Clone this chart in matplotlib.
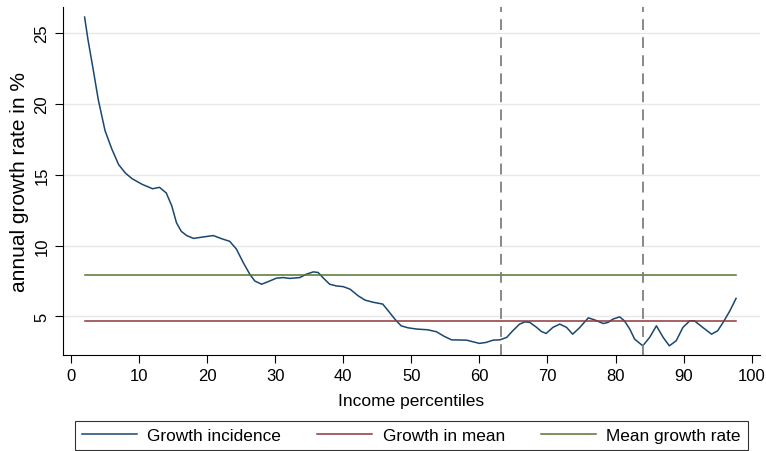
import matplotlib
matplotlib.use('Agg')
import matplotlib.pyplot as plt

# Growth incidence curve
pctile = [2, 2.5, 3.3, 4, 5, 6, 7, 8, 9, 10.5, 12, 13, 14, 14.8, 15.5, 16.2, 17, 18,
          19.4, 20.9, 22.3, 23.3, 24.3, 25.3, 26.3, 27, 28, 29, 30.2, 31.2, 32.1, 33.6,
          34.6, 35.6, 36.3, 37, 38, 39, 40, 41, 42.2, 43.2, 44.4, 45.8, 46.6, 47.6,
          48.5, 49.5, 50.8, 52.4, 53.7, 54.7, 55.9, 58.1, 60, 61, 62, 63, 64, 64.9,
          65.9, 66.7, 67.4, 68.4, 69.1, 69.8, 70.8, 71.8, 72.8, 73.7, 74.7, 76, 76.9,
          78.2, 78.9, 79.6, 80.6, 81.3, 82.1, 82.8, 84, 85, 86, 87, 87.9, 88.9, 89.9,
          90.9, 91.6, 92.8, 94.1, 95, 95.8, 96.8, 97.7]
growth = [26.1, 24.5, 22.3, 20.3, 18.1, 16.8, 15.7, 15.1, 14.7, 14.3, 14.0, 14.1, 13.7,
          12.8, 11.6, 11.0, 10.7, 10.5, 10.6, 10.7, 10.45, 10.3, 9.75, 8.8, 7.95, 7.5,
          7.27, 7.46, 7.7, 7.74, 7.68, 7.74, 7.98, 8.14, 8.1, 7.74, 7.27, 7.15, 7.1,
          6.92, 6.45, 6.15, 6.0, 5.87, 5.4, 4.8, 4.34, 4.2, 4.11, 4.06, 3.92, 3.63,
          3.35, 3.33, 3.1, 3.17, 3.33, 3.35, 3.52, 3.99, 4.46, 4.62, 4.58, 4.23, 3.94,
          3.8, 4.23, 4.46, 4.23, 3.75, 4.2, 4.9, 4.76, 4.5, 4.58, 4.81, 4.97, 4.69,
          4.1, 3.4, 2.93, 3.52, 4.34, 3.52, 2.93, 3.28, 4.23, 4.69, 4.69, 4.23, 3.75,
          3.99, 4.58, 5.4, 6.27]

growth_in_mean = 4.65
mean_growth_rate = 7.91
vlines = [63.1, 84.1]

xticks = [0, 10, 20, 30, 40, 50, 60, 70, 80, 90, 100]
yticks = [5, 10, 15, 20, 25]

plt.rcParams['font.family'] = ['Liberation Sans', 'DejaVu Sans']

navy = '#1a476f'
maroon = '#90353b'
green = '#55752f'

fig = plt.figure(figsize=(7.66, 4.52), dpi=100)
ax = fig.add_axes([0.082, 0.212, 0.910, 0.770])

for y in yticks:
    ax.axhline(y, color='#e8e8e8', lw=1.0, zorder=0)

ax.plot(pctile, growth, color=navy, lw=1.1, label='Growth incidence')
ax.plot([pctile[0], pctile[-1]], [growth_in_mean] * 2, color=maroon, lw=1.1,
        label='Growth in mean')
ax.plot([pctile[0], pctile[-1]], [mean_growth_rate] * 2, color=green, lw=1.1,
        label='Mean growth rate')
for v in vlines:
    ax.axvline(v, color='#7f7f7f', lw=1.3, ls=(0, (6, 4)))

ax.set_xlim(-1.2, 101.2)
ax.set_ylim(2.27, 26.8)
ax.set_xticks(xticks)
ax.set_yticks(yticks)
ax.tick_params(axis='both', direction='out', length=5.5, width=0.8, labelsize=12,
               colors='black', pad=4)
for lbl in ax.get_yticklabels():
    lbl.set_rotation(90)
    lbl.set_va('center')

ax.spines['top'].set_visible(False)
ax.spines['right'].set_visible(False)

ax.set_xlabel('Income percentiles', fontsize=12.5, labelpad=7)
ax.set_ylabel('annual growth rate in %', fontsize=15, labelpad=4)

leg = fig.legend(loc='lower center', bbox_to_anchor=(0.537, 0.003), ncol=3,
                 fontsize=12.4, frameon=True, fancybox=False, edgecolor='black',
                 handlelength=3.2, columnspacing=2.1, borderpad=0.4,
                 handletextpad=0.6, borderaxespad=0.0)
leg.get_frame().set_linewidth(0.8)

fig.savefig('out.png', dpi=100)
